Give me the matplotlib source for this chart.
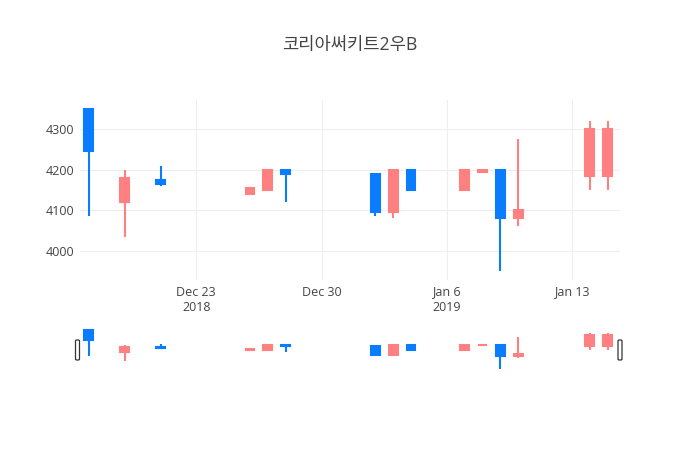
import matplotlib
matplotlib.use("Agg")
import matplotlib.pyplot as plt
import matplotlib.dates as mdates
from matplotlib.patches import FancyBboxPatch
import numpy as np
import datetime as dt

plt.rcParams['font.family'] = ['Open Sans', 'Noto Sans CJK KR', 'DejaVu Sans']

title = "코리아써키트2우B"
dates = ["2018-12-17", "2018-12-19", "2018-12-21", "2018-12-26", "2018-12-27",
         "2018-12-28", "2019-01-02", "2019-01-03", "2019-01-04", "2019-01-07",
         "2019-01-08", "2019-01-09", "2019-01-10", "2019-01-14", "2019-01-15"]
opens  = [4350, 4120, 4175, 4140, 4150, 4200, 4190, 4095, 4200, 4150, 4195, 4200, 4080, 4185, 4185]
highs  = [4350, 4200, 4210, 4155, 4200, 4200, 4190, 4200, 4200, 4200, 4200, 4200, 4275, 4320, 4320]
lows   = [4085, 4035, 4160, 4140, 4150, 4120, 4085, 4080, 4150, 4150, 4195, 3950, 4060, 4150, 4150]
closes = [4245, 4180, 4165, 4155, 4200, 4190, 4095, 4200, 4150, 4200, 4200, 4080, 4100, 4300, 4300]
yticks = [4000, 4100, 4200, 4300]
xtick_dates = ["2018-12-23", "2018-12-30", "2019-01-06", "2019-01-13"]
xtick_labels = ["Dec 23\n2018", "Dec 30", "Jan 6\n2019", "Jan 13"]

UP = '#FF8080'
DOWN = '#0A7CFF'
TXT = '#444444'

W, H = 700, 450
fig = plt.figure(figsize=(7, 4.5), dpi=100)

x = mdates.date2num([dt.datetime.fromisoformat(d) for d in dates])
xt = mdates.date2num([dt.datetime.fromisoformat(d) for d in xtick_dates])
xmin = x[0] - 0.5
xmax = x[-1] + 0.68
ylo, yhi = 3928, 4372

def px_axes(l, t, r, b):
    return fig.add_axes([l / W, 1 - b / H, (r - l) / W, (b - t) / H])

def draw_candles(ax, lw):
    for xi, o, h, l, c in zip(x, opens, highs, lows, closes):
        col = UP if c >= o else DOWN
        ax.vlines(xi, l, h, color=col, linewidth=lw, zorder=2)
        lo_b, hi_b = min(o, c), max(o, c)
        ax.bar(xi, hi_b - lo_b, bottom=lo_b, width=0.5, color=col,
               edgecolor=col, linewidth=lw, zorder=3)

ax = px_axes(80, 100, 620, 280)
draw_candles(ax, 1.5)
ax.set_xlim(xmin, xmax)
ax.set_ylim(ylo, yhi)
ax.set_yticks(yticks)
ax.set_yticklabels([str(v) for v in yticks])
ax.set_xticks(xt)
ax.set_xticklabels(xtick_labels)
ax.grid(True, color='#eeeeee', linewidth=0.8)
ax.set_axisbelow(True)
for s in ax.spines.values():
    s.set_visible(False)
ax.tick_params(axis='both', length=0, colors=TXT, labelsize=9)
ax.tick_params(axis='y', pad=4)
ax.tick_params(axis='x', pad=4)
for lab in ax.get_xticklabels():
    lab.set_linespacing(1.2)

# range slider
rs = px_axes(80, 328, 620, 371)
draw_candles(rs, 1.5)
rs.set_xlim(xmin, xmax)
rs.set_ylim(ylo, yhi)
rs.set_xticks([])
rs.set_yticks([])
for s in rs.spines.values():
    s.set_visible(False)

for hx in (77.5, 620):
    p = FancyBboxPatch(((hx - 2) / W, 1 - 360 / H), 4 / W, 20 / H,
                       boxstyle="round,pad=0,rounding_size=0.002",
                       transform=fig.transFigure, facecolor='white',
                       edgecolor='#333333', linewidth=0.9)
    fig.patches.append(p)

fig.text(350 / W, 1 - 45 / H, title, ha='center', va='center',
         fontsize=12.75, color=TXT)

fig.savefig("out.png", dpi=100, facecolor='white')
